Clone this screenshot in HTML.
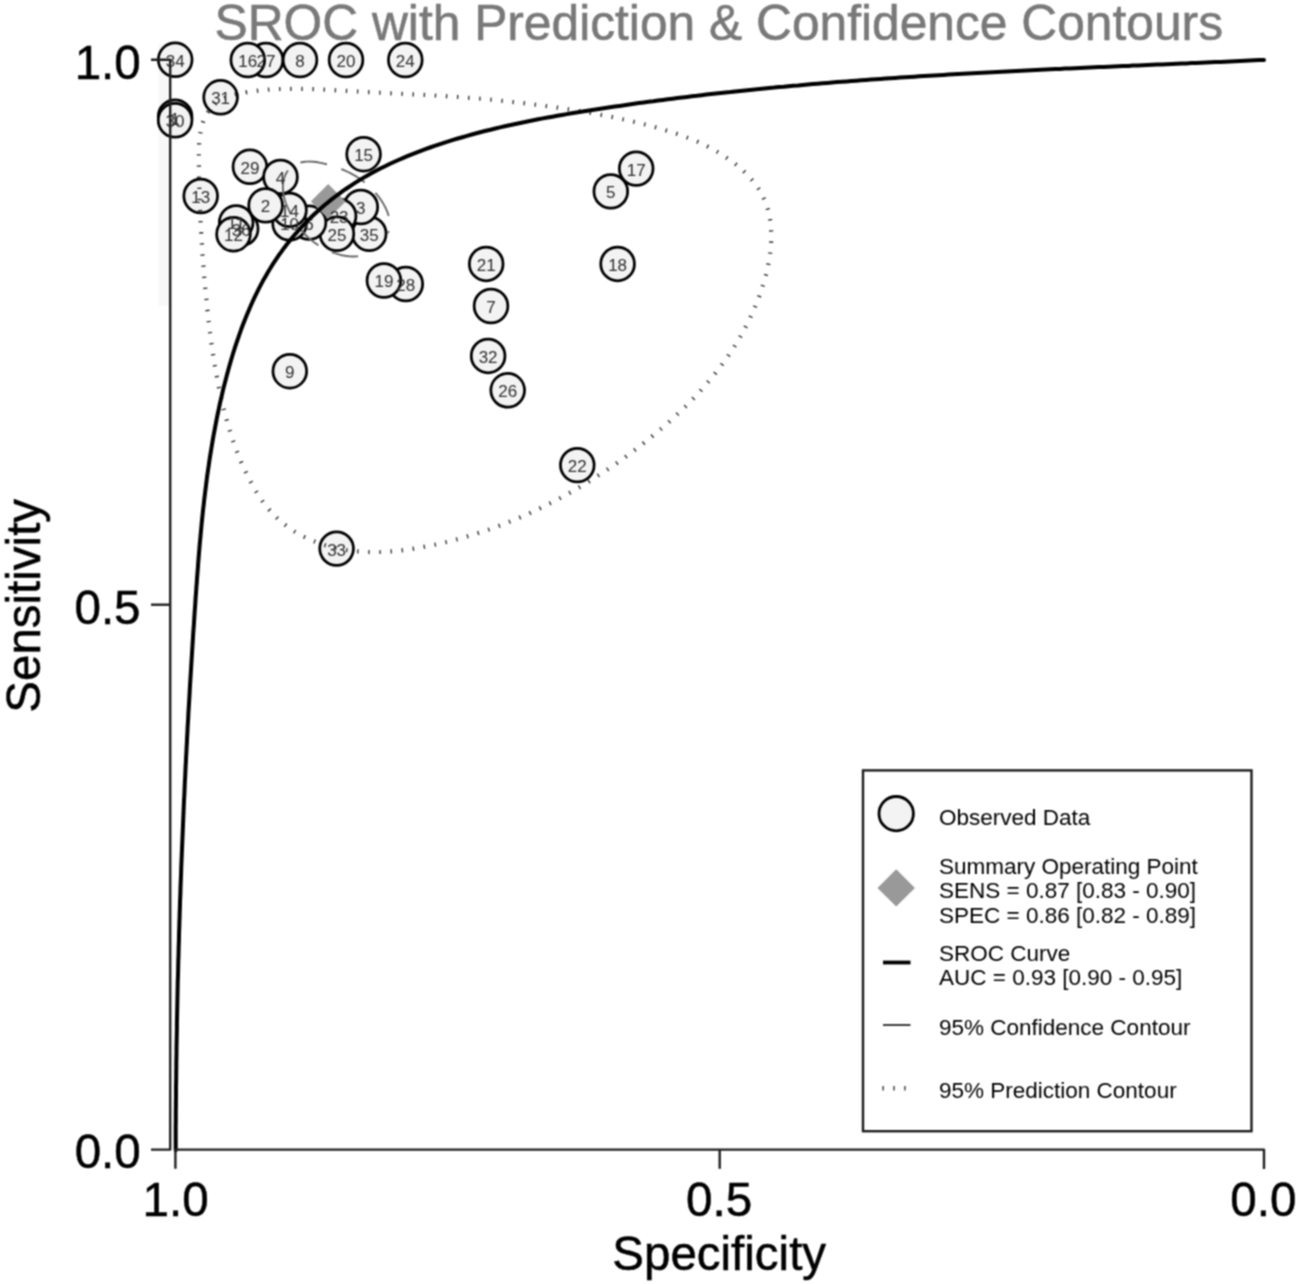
<!DOCTYPE html>
<html lang="en"><head><meta charset="utf-8"><title>SROC with Prediction &amp; Confidence Contours</title>
<style>html,body{margin:0;padding:0;background:#fff}svg{display:block}text{font-family:"Liberation Sans",Arial,Helvetica,sans-serif}</style></head><body>
<svg width="1298" height="1284" viewBox="0 0 1298 1284">
<defs><filter id="soft" x="0" y="0" width="100%" height="100%" filterUnits="userSpaceOnUse" color-interpolation-filters="sRGB"><feConvolveMatrix order="3" kernelMatrix="1 2 1 2 4 2 1 2 1" divisor="16" edgeMode="duplicate" preserveAlpha="true"/></filter></defs>
<rect width="1298" height="1284" fill="#fff"/>
<g filter="url(#soft)">
<rect width="1298" height="1284" fill="#fff"/>
<rect x="158.3" y="44" width="12.2" height="262" fill="#f8f8f8"/>
<text x="214.5" y="40.4" font-size="50" fill="#797979" stroke="#797979" stroke-width="0.55" textLength="1008.5" lengthAdjust="spacingAndGlyphs">SROC with Prediction &amp; Confidence Contours</text>
<g fill="#f3f3f3" stroke="#000" stroke-width="2.75">
<circle cx="175.2" cy="59.8" r="16.85"/>
<circle cx="175.1" cy="116.7" r="16.85"/>
<circle cx="175.1" cy="120.3" r="16.85"/>
<circle cx="220.6" cy="97.3" r="16.85"/>
<circle cx="266" cy="60" r="16.85"/>
<circle cx="247.8" cy="60" r="16.85"/>
<circle cx="300" cy="60" r="16.85"/>
<circle cx="346" cy="60" r="16.85"/>
<circle cx="405.3" cy="60" r="16.85"/>
<circle cx="363.6" cy="154.2" r="16.85"/>
<circle cx="249.9" cy="166.8" r="16.85"/>
<circle cx="200.7" cy="196" r="16.85"/>
<circle cx="369.2" cy="233.7" r="16.85"/>
<circle cx="360.8" cy="207" r="16.85"/>
<circle cx="339.1" cy="216" r="16.85"/>
<circle cx="336.9" cy="233.8" r="16.85"/>
<circle cx="309" cy="222.6" r="16.85"/>
<circle cx="289.6" cy="223.4" r="16.85"/>
<circle cx="289.5" cy="209.9" r="16.85"/>
<circle cx="280.5" cy="176.9" r="16.85"/>
<circle cx="265.6" cy="205.4" r="16.85"/>
<circle cx="241.2" cy="228.8" r="16.85"/>
<circle cx="236.2" cy="222.5" r="16.85"/>
<circle cx="233.5" cy="234.2" r="16.85"/>
<circle cx="405.8" cy="284" r="16.85"/>
<circle cx="383.9" cy="280.5" r="16.85"/>
<circle cx="486.2" cy="263.9" r="16.85"/>
<circle cx="491" cy="306" r="16.85"/>
<circle cx="488.1" cy="355.9" r="16.85"/>
<circle cx="507.7" cy="390.3" r="16.85"/>
<circle cx="289.8" cy="371.2" r="16.85"/>
<circle cx="577.3" cy="465.1" r="16.85"/>
<circle cx="336.6" cy="548.6" r="16.85"/>
<circle cx="636.2" cy="168.6" r="16.85"/>
<circle cx="610.8" cy="191.4" r="16.85"/>
<circle cx="617.6" cy="263.9" r="16.85"/>
<path d="M310.8,201.4 L328.2,184 L345.6,201.4 L328.2,218.8Z" fill="#999" stroke="none"/>
</g>
<path d="M246.5,92.2 250.8,91.5 255.1,91 259.4,90.5 263.7,90.1 268,89.7 272.3,89.4 276.6,89.2 280.9,89 285.2,88.9 289.4,88.8 293.7,88.8 298,88.8 302.2,88.9 306.5,88.9 310.8,89.1 315,89.2 319.3,89.4 323.5,89.6 327.8,89.8 332,90 336.3,90.3 340.6,90.5 344.8,90.8 349.1,91 353.3,91.3 357.6,91.5 361.9,91.8 366.1,92 370.4,92.2 374.7,92.4 379,92.7 383.2,92.9 387.5,93.1 391.8,93.3 396.1,93.5 400.3,93.7 404.6,93.9 408.9,94.1 413.2,94.4 417.4,94.6 421.7,94.8 426,95 430.3,95.3 434.5,95.5 438.8,95.8 443.1,96 447.3,96.3 451.6,96.6 455.9,96.8 460.1,97.1 464.4,97.5 468.6,97.8 472.9,98.1 477.1,98.5 481.4,98.8 485.6,99.2 489.9,99.6 494.1,100 498.4,100.4 502.6,100.9 506.8,101.3 511.1,101.8 515.3,102.3 519.5,102.7 523.8,103.2 528,103.8 532.3,104.3 536.5,104.8 540.7,105.4 545,105.9 549.2,106.5 553.4,107.1 557.7,107.7 561.9,108.4 566.1,109 570.4,109.6 574.6,110.3 578.9,111 583.1,111.7 587.3,112.4 591.6,113.1 595.8,113.9 600,114.7 604.3,115.5 608.5,116.3 612.7,117.1 616.9,118 621.1,118.9 625.3,119.8 629.4,120.7 633.6,121.7 637.8,122.7 641.9,123.7 646,124.7 650.1,125.8 654.2,126.9 658.3,128.1 662.3,129.2 666.4,130.5 670.4,131.7 674.4,133 678.4,134.3 682.3,135.7 686.3,137.2 690.2,138.7 694.1,140.3 698,141.9 701.8,143.7 705.7,145.5 709.5,147.5 713.3,149.5 717.1,151.7 720.9,154 724.6,156.3 728.3,158.9 731.9,161.5 735.5,164.2 738.9,167 742.3,170 745.5,173 748.6,176.2 751.5,179.4 754.2,182.7 756.8,186.2 759.1,189.7 761.2,193.3 763.1,196.9 764.8,200.7 766.3,204.5 767.6,208.4 768.6,212.4 769.5,216.4 770.2,220.4 770.7,224.5 771.1,228.7 771.3,232.8 771.3,237 771.2,241.3 771,245.5 770.6,249.8 770.1,254 769.4,258.3 768.7,262.6 767.8,266.8 766.8,271.1 765.8,275.3 764.6,279.5 763.4,283.7 762.1,287.9 760.7,292 759.3,296 757.8,300.1 756.2,304.1 754.6,308 752.9,311.9 751.1,315.8 749.3,319.7 747.4,323.5 745.4,327.3 743.4,331 741.4,334.8 739.3,338.4 737.1,342.1 734.9,345.7 732.6,349.3 730.2,352.8 727.9,356.3 725.4,359.8 722.9,363.2 720.4,366.7 717.8,370 715.2,373.4 712.6,376.7 709.8,380 707.1,383.2 704.3,386.5 701.5,389.7 698.6,392.8 695.7,396 692.8,399.1 689.8,402.1 686.8,405.2 683.7,408.2 680.6,411.2 677.5,414.1 674.4,417.1 671.2,420 668,422.8 664.8,425.7 661.5,428.5 658.2,431.3 654.9,434 651.6,436.8 648.3,439.5 644.9,442.2 641.5,444.8 638.1,447.5 634.7,450.1 631.3,452.6 627.8,455.2 624.4,457.7 620.9,460.2 617.4,462.7 613.9,465.2 610.3,467.6 606.8,470 603.2,472.4 599.6,474.7 596,477 592.4,479.3 588.8,481.6 585.2,483.8 581.5,486 577.9,488.2 574.2,490.3 570.5,492.4 566.8,494.5 563,496.5 559.3,498.6 555.5,500.5 551.7,502.5 548,504.4 544.1,506.3 540.3,508.2 536.5,510 532.6,511.8 528.8,513.6 524.9,515.3 521,517 517.1,518.7 513.2,520.3 509.2,521.9 505.3,523.5 501.3,525 497.3,526.5 493.3,527.9 489.3,529.4 485.3,530.8 481.2,532.1 477.2,533.4 473.1,534.7 469,535.9 464.9,537.1 460.8,538.3 456.7,539.4 452.5,540.5 448.4,541.6 444.2,542.6 440,543.6 435.8,544.5 431.6,545.4 427.4,546.2 423.1,547 418.9,547.8 414.6,548.5 410.4,549.2 406.1,549.8 401.8,550.3 397.5,550.8 393.3,551.2 389,551.5 384.7,551.8 380.4,552 376.2,552 371.9,552.1 367.6,552 363.4,551.8 359.2,551.5 354.9,551.2 350.7,550.7 346.5,550.1 342.4,549.4 338.2,548.6 334.1,547.7 330,546.7 325.9,545.5 321.8,544.2 317.8,542.8 313.8,541.2 309.8,539.5 305.9,537.7 302.1,535.8 298.3,533.7 294.6,531.5 291,529.2 287.5,526.7 284.1,524.1 280.8,521.4 277.6,518.6 274.5,515.6 271.6,512.5 268.8,509.3 266.1,506 263.5,502.6 261.1,499.1 258.7,495.5 256.4,491.9 254.2,488.2 252.1,484.5 250.1,480.7 248.1,476.9 246.2,473 244.4,469.2 242.6,465.3 240.9,461.4 239.3,457.5 237.7,453.5 236.2,449.5 234.7,445.5 233.3,441.5 231.9,437.5 230.6,433.5 229.4,429.4 228.1,425.3 227,421.2 225.8,417.1 224.7,413 223.7,408.9 222.7,404.7 221.7,400.5 220.8,396.4 219.9,392.2 219,388 218.2,383.8 217.4,379.6 216.6,375.4 215.8,371.1 215.1,366.9 214.4,362.7 213.7,358.4 213.1,354.2 212.4,349.9 211.8,345.7 211.2,341.4 210.6,337.1 210.1,332.9 209.5,328.6 209,324.4 208.5,320.1 208,315.8 207.6,311.6 207.1,307.3 206.7,303 206.3,298.8 205.8,294.5 205.5,290.3 205.1,286 204.7,281.8 204.3,277.6 204,273.3 203.7,269.1 203.3,264.9 203,260.7 202.7,256.5 202.4,252.3 202.1,248.1 201.9,243.9 201.6,239.6 201.4,235.4 201.1,231.2 200.9,227 200.7,222.8 200.5,218.5 200.3,214.3 200.1,210 199.9,205.8 199.7,201.5 199.6,197.2 199.5,192.9 199.3,188.5 199.2,184.2 199.1,179.8 199,175.4 199,171 198.9,166.6 198.8,162.2 198.8,157.7 198.8,153.2 198.9,148.8 199.1,144.4 199.4,140 199.9,135.7 200.6,131.6 201.4,127.5 202.5,123.6 203.9,119.8 205.5,116.2 207.5,112.8 209.7,109.6 212.4,106.6 215.3,103.9 218.5,101.5 222,99.3 225.7,97.5 229.6,96 233.7,94.7 237.9,93.7 242.2,92.9 246.5,92.2Z" fill="none" stroke="#333" stroke-width="4.2" stroke-dasharray="1.4 9.737" stroke-dashoffset="0.7"/>
<path d="M283.9,196.4 283.5,194.8 283.3,193.2 283.1,191.6 283,190 282.9,188.4 282.9,186.8 283,185.2 283.1,183.6 283.3,182 283.6,180.4 284,178.9 284.4,177.4 284.9,176 285.5,174.6 286.2,173.3 287,172 287.8,170.8 288.7,169.6 289.8,168.5 290.9,167.5 292,166.6 293.3,165.7 294.6,165 295.9,164.3 297.3,163.7 298.8,163.1 300.2,162.7 301.7,162.3 303.2,162 304.8,161.8 306.3,161.6 307.9,161.6 309.5,161.5 311.1,161.6 312.7,161.7 314.3,161.8 315.9,162 317.6,162.3 319.2,162.6 320.8,162.9 322.4,163.2 324,163.6 325.6,164 327.2,164.4 328.8,164.9 330.4,165.3 331.9,165.8 333.5,166.3 335,166.8 336.5,167.3 338,167.8 339.5,168.4 340.9,168.9 342.4,169.5 343.8,170.1 345.2,170.7 346.6,171.4 348,172 349.4,172.7 350.8,173.4 352.1,174.1 353.5,174.9 354.8,175.6 356.1,176.4 357.4,177.2 358.7,178.1 359.9,178.9 361.2,179.8 362.4,180.7 363.6,181.6 364.8,182.6 366,183.6 367.2,184.6 368.4,185.6 369.5,186.7 370.6,187.8 371.8,188.9 372.9,190 374,191.2 375,192.4 376.1,193.6 377.1,194.9 378.2,196.2 379.2,197.5 380.2,198.8 381.1,200.2 382,201.6 382.9,203 383.7,204.4 384.5,205.9 385.3,207.3 386,208.8 386.7,210.3 387.3,211.8 387.8,213.3 388.3,214.8 388.7,216.3 389,217.8 389.3,219.3 389.5,220.9 389.6,222.4 389.6,223.9 389.6,225.4 389.4,226.9 389.2,228.4 388.9,229.9 388.5,231.3 388,232.8 387.5,234.2 386.9,235.7 386.2,237 385.5,238.4 384.6,239.7 383.8,241 382.8,242.3 381.9,243.5 380.8,244.7 379.7,245.8 378.6,246.9 377.4,248 376.2,249 374.9,249.9 373.6,250.8 372.3,251.6 370.9,252.4 369.5,253.1 368.1,253.7 366.7,254.3 365.2,254.8 363.8,255.2 362.3,255.6 360.8,255.9 359.2,256.1 357.7,256.3 356.1,256.4 354.6,256.5 353,256.5 351.4,256.5 349.9,256.4 348.3,256.2 346.7,256 345.1,255.8 343.5,255.5 341.9,255.2 340.4,254.8 338.8,254.4 337.2,253.9 335.7,253.4 334.1,252.9 332.6,252.3 331.1,251.7 329.6,251.1 328.1,250.4 326.6,249.7 325.1,249 323.7,248.3 322.3,247.5 320.9,246.7 319.5,245.9 318.2,245.1 316.9,244.2 315.6,243.4 314.3,242.5 313.1,241.5 311.9,240.6 310.7,239.6 309.5,238.6 308.4,237.6 307.2,236.6 306.1,235.5 305.1,234.5 304,233.4 303,232.2 302,231.1 301,229.9 300,228.7 299.1,227.5 298.2,226.2 297.3,224.9 296.4,223.6 295.6,222.3 294.7,221 293.9,219.6 293.1,218.2 292.4,216.8 291.6,215.4 290.9,214 290.1,212.6 289.4,211.2 288.7,209.7 288.1,208.3 287.4,206.9 286.8,205.4 286.2,204 285.6,202.5 285.1,201 284.7,199.5 284.2,197.9 283.9,196.4" fill="none" stroke="#686868" stroke-width="1.9" stroke-dasharray="27 15 27 15 27 15 27 15 2.5 39.5 27 15 27 15 27 15"/>
<g font-size="17" fill="#2e2e2e" text-anchor="middle">
<text x="175.1" y="125.1">1</text>
<text x="265.6" y="212.3">2</text>
<text x="360.8" y="213.9">3</text>
<text x="280.5" y="183.8">4</text>
<text x="610.8" y="198.3">5</text>
<text x="309" y="229.5">6</text>
<text x="491" y="312.9">7</text>
<text x="300" y="66.9">8</text>
<text x="289.8" y="378.1">9</text>
<text x="289.6" y="230.3">10</text>
<text x="236.2" y="229.4">11</text>
<text x="233.5" y="241.1">12</text>
<text x="200.7" y="202.9">13</text>
<text x="289.5" y="216.8">14</text>
<text x="363.6" y="161.1">15</text>
<text x="247.8" y="66.9">16</text>
<text x="636.2" y="175.5">17</text>
<text x="617.6" y="270.8">18</text>
<text x="383.9" y="287.4">19</text>
<text x="346" y="66.9">20</text>
<text x="486.2" y="270.8">21</text>
<text x="577.3" y="472">22</text>
<text x="339.1" y="222.9">23</text>
<text x="405.3" y="66.9">24</text>
<text x="336.9" y="240.7">25</text>
<text x="507.7" y="397.2">26</text>
<text x="266" y="66.9">27</text>
<text x="405.8" y="290.9">28</text>
<text x="249.9" y="173.7">29</text>
<text x="175.1" y="127.2">30</text>
<text x="220.6" y="104.2">31</text>
<text x="488.1" y="362.8">32</text>
<text x="336.6" y="555.5">33</text>
<text x="175.2" y="66.7">34</text>
<text x="369.2" y="240.6">35</text>
<text x="241.2" y="235.7">36</text>
</g>
<path d="M175.7,1150.3 175.7,1145.4 175.7,1140.6 175.7,1135.7 175.7,1130.9 175.7,1126 175.8,1121.1 175.8,1116.3 175.8,1111.4 175.9,1106.6 175.9,1101.7 176,1096.8 176,1092 176,1087.1 176.1,1082.3 176.2,1077.4 176.2,1072.5 176.3,1067.7 176.3,1062.8 176.4,1058 176.5,1053.1 176.5,1048.2 176.6,1043.4 176.7,1038.5 176.8,1033.7 176.9,1028.8 176.9,1024 177,1019.1 177.1,1014.2 177.2,1009.4 177.3,1004.5 177.4,999.7 177.5,994.8 177.6,989.9 177.7,985.1 177.8,980.2 178,975.4 178.1,970.5 178.2,965.6 178.3,960.8 178.5,955.9 178.6,951.1 178.7,946.2 178.9,941.4 179,936.5 179.1,931.6 179.3,926.8 179.4,921.9 179.6,917.1 179.7,912.2 179.9,907.4 180,902.5 180.2,897.6 180.4,892.8 180.5,887.9 180.7,883.1 180.9,878.2 181.1,873.4 181.2,868.5 181.4,863.6 181.6,858.8 181.8,853.9 182,849.1 182.2,844.2 182.4,839.4 182.6,834.5 182.8,829.6 183,824.8 183.2,819.9 183.4,815.1 183.6,810.2 183.8,805.4 184,800.5 184.3,795.7 184.5,790.8 184.7,785.9 184.9,781.1 185.2,776.2 185.4,771.4 185.6,766.5 185.9,761.7 186.1,756.8 186.4,752 186.6,747.1 186.9,742.3 187.1,737.4 187.4,732.6 187.6,727.7 187.9,722.9 188.2,718 188.4,713.1 188.7,708.3 189,703.4 189.3,698.6 189.6,693.7 189.8,688.9 190.1,684 190.4,679.2 190.7,674.3 191,669.5 191.3,664.6 191.6,659.8 191.9,654.9 192.2,650.1 192.5,645.2 192.8,640.4 193.1,635.5 193.4,630.7 193.8,625.8 194.1,621 194.4,616.1 194.7,611.3 195.1,606.4 195.4,601.6 195.7,596.7 196.1,591.9 196.4,587 196.8,582.2 197.1,577.3 197.5,572.5 197.9,567.7 198.2,562.8 198.6,558 199,553.1 199.4,548.3 199.8,543.4 200.3,538.6 200.7,533.8 201.2,528.9 201.6,524.1 202.1,519.2 202.6,514.4 203.1,509.6 203.7,504.7 204.2,499.9 204.8,495.1 205.4,490.3 206,485.4 206.6,480.6 207.2,475.8 207.9,471 208.6,466.2 209.3,461.4 210,456.6 210.8,451.8 211.6,447 212.4,442.2 213.2,437.4 214.1,432.6 215,427.8 215.9,423.1 216.8,418.3 217.8,413.5 218.8,408.8 219.8,404 220.9,399.3 222,394.6 223.1,389.8 224.3,385.1 225.5,380.4 226.7,375.7 228,371 229.3,366.3 230.6,361.7 232,357 233.4,352.3 234.9,347.7 236.4,343.1 238,338.5 239.6,333.9 241.2,329.3 242.9,324.8 244.7,320.2 246.5,315.7 248.4,311.2 250.3,306.8 252.3,302.3 254.3,297.9 256.4,293.6 258.6,289.2 260.8,284.9 263.1,280.6 265.5,276.4 267.9,272.2 270.5,268 273,263.9 275.7,259.8 278.4,255.8 281.3,251.9 284.1,247.9 287.1,244.1 290.1,240.3 293.2,236.5 296.4,232.9 299.6,229.2 302.9,225.7 306.3,222.2 309.7,218.7 313.2,215.3 316.8,212 320.4,208.8 324.1,205.6 327.8,202.5 331.6,199.4 335.4,196.5 339.3,193.6 343.3,190.7 347.3,188 351.3,185.3 355.4,182.6 359.5,180.1 363.7,177.6 367.9,175.2 372.2,172.8 376.5,170.5 380.8,168.3 385.1,166.2 389.5,164 393.9,162 398.4,160 402.8,158.1 407.3,156.2 411.8,154.3 416.3,152.6 420.9,150.8 425.4,149.1 430,147.5 434.6,145.9 439.2,144.3 443.8,142.8 448.4,141.4 453.1,139.9 457.7,138.5 462.4,137.2 467.1,135.8 471.8,134.5 476.4,133.3 481.1,132 485.9,130.8 490.6,129.7 495.3,128.5 500,127.4 504.8,126.3 509.5,125.2 514.2,124.2 519,123.2 523.8,122.2 528.5,121.2 533.3,120.3 538.1,119.3 542.8,118.4 547.6,117.5 552.4,116.7 557.2,115.8 562,115 566.8,114.1 571.5,113.3 576.3,112.5 581.1,111.8 585.9,111 590.7,110.2 595.5,109.5 600.3,108.7 605.1,108 609.9,107.3 614.8,106.6 619.6,105.9 624.4,105.2 629.2,104.5 634,103.8 638.8,103.1 643.6,102.5 648.4,101.8 653.3,101.2 658.1,100.5 662.9,99.9 667.7,99.3 672.5,98.7 677.4,98.1 682.2,97.5 687,96.9 691.8,96.3 696.7,95.8 701.5,95.2 706.3,94.6 711.1,94.1 716,93.5 720.8,93 725.6,92.5 730.5,92 735.3,91.4 740.1,90.9 745,90.4 749.8,89.9 754.6,89.5 759.5,89 764.3,88.5 769.1,88 774,87.6 778.8,87.1 783.7,86.7 788.5,86.2 793.3,85.8 798.2,85.4 803,84.9 807.9,84.5 812.7,84.1 817.6,83.7 822.4,83.3 827.2,82.9 832.1,82.5 836.9,82.1 841.8,81.8 846.6,81.4 851.5,81 856.3,80.7 861.2,80.3 866,79.9 870.9,79.6 875.7,79.3 880.5,78.9 885.4,78.6 890.2,78.2 895.1,77.9 899.9,77.6 904.8,77.3 909.6,77 914.5,76.7 919.3,76.3 924.2,76 929,75.7 933.9,75.5 938.7,75.2 943.6,74.9 948.4,74.6 953.3,74.3 958.2,74 963,73.8 967.9,73.5 972.7,73.2 977.6,73 982.4,72.7 987.3,72.4 992.1,72.2 997,71.9 1001.8,71.7 1006.7,71.4 1011.5,71.2 1016.4,71 1021.2,70.7 1026.1,70.5 1031,70.2 1035.8,70 1040.7,69.8 1045.5,69.5 1050.4,69.3 1055.2,69.1 1060.1,68.9 1064.9,68.6 1069.8,68.4 1074.6,68.2 1079.5,68 1084.4,67.8 1089.2,67.5 1094.1,67.3 1098.9,67.1 1103.8,66.9 1108.6,66.7 1113.5,66.5 1118.3,66.3 1123.2,66.1 1128.1,65.9 1132.9,65.6 1137.8,65.4 1142.6,65.2 1147.5,65 1152.3,64.8 1157.2,64.6 1162,64.4 1166.9,64.2 1171.8,64 1176.6,63.8 1181.5,63.6 1186.3,63.4 1191.2,63.1 1196,62.9 1200.9,62.7 1205.7,62.5 1210.6,62.3 1215.5,62.1 1220.3,61.9 1225.2,61.7 1230,61.4 1234.9,61.2 1239.7,61 1244.6,60.8 1249.4,60.6 1254.3,60.3 1259.1,60.1 1264,59.9" fill="none" stroke="#000" stroke-width="4.0" stroke-linecap="round" stroke-linejoin="round"/>
<g stroke="#202020" stroke-width="2.4" fill="none" stroke-linejoin="round">
<path d="M151,59.8 H170.2 V1149.6 H151"/>
<path d="M151,604.7 H170.2"/>
<path d="M175.4,1168.8 V1149.6 H1264 V1169"/>
<path d="M719.7,1149.6 V1168.8"/>
</g>
<g font-size="47.6" fill="#000" stroke="#000" stroke-width="0.5">
<text x="140.8" y="78.8" text-anchor="end">1.0</text>
<text x="140.6" y="624.4" text-anchor="end">0.5</text>
<text x="140.8" y="1168.3" text-anchor="end">0.0</text>
<text x="175.6" y="1215.7" text-anchor="middle">1.0</text>
<text x="719.1" y="1215.7" text-anchor="middle">0.5</text>
<text x="1263.3" y="1215.8" text-anchor="middle">0.0</text>
</g>
<text x="719.2" y="1270.2" font-size="47.5" fill="#000" stroke="#000" stroke-width="0.5" text-anchor="middle">Specificity</text>
<text transform="translate(39.9,605.8) rotate(-90)" font-size="47.5" fill="#000" stroke="#000" stroke-width="0.5" text-anchor="middle">Sensitivity</text>
<rect x="863" y="770.4" width="388.5" height="360.8" fill="#fff" stroke="#1c1c1c" stroke-width="2.4"/>
<circle cx="896.2" cy="813.7" r="17.2" fill="#f3f3f3" stroke="#000" stroke-width="2.8"/>
<path d="M877.5,887.9 L896.2,869.2 L914.9,887.9 L896.2,906.6Z" fill="#999"/>
<path d="M883,962.5 H910.5" stroke="#000" stroke-width="3.8"/>
<path d="M883,1025 H910.5" stroke="#3c3c3c" stroke-width="2"/>
<path d="M883.1,1086 V1090.4 M894,1086 V1090.4 M904.9,1086 V1090.4" stroke="#444" stroke-width="1.5"/>
<g font-size="22.5" fill="#000">
<text x="939" y="824.6">Observed Data</text>
<text x="939" y="873.9">Summary Operating Point</text>
<text x="939" y="898.4">SENS = 0.87 [0.83 - 0.90]</text>
<text x="939" y="922.9">SPEC = 0.86 [0.82 - 0.89]</text>
<text x="939" y="960.9">SROC Curve</text>
<text x="939" y="985.2">AUC = 0.93 [0.90 - 0.95]</text>
<text x="939" y="1035.2">95% Confidence Contour</text>
<text x="939" y="1097.6">95% Prediction Contour</text>
</g>
</g>
</svg></body></html>
